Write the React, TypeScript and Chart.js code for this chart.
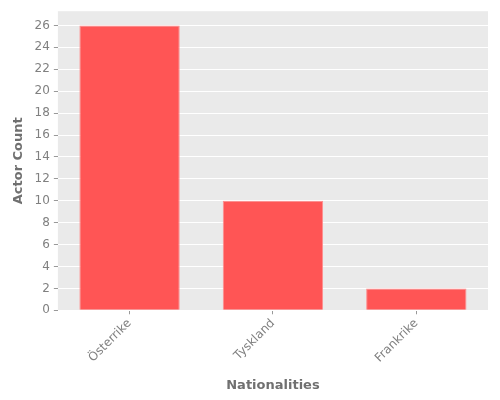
import React, { useEffect, useRef } from 'react';
import { Chart, registerables } from 'chart.js';

Chart.register(...registerables);

const nationalities = ['Österrike', 'Tyskland', 'Frankrike'];
const actorCounts = [26, 10, 2];
const yTicks = [0, 2, 4, 6, 8, 10, 12, 14, 16, 18, 20, 22, 24, 26];

const panelBackground = {
    id: 'panelBackground',
    beforeDraw: (chart: any) => {
        const { ctx, chartArea } = chart;
        ctx.save();
        ctx.fillStyle = '#EAEAEA';
        ctx.fillRect(chartArea.left, chartArea.top, chartArea.right - chartArea.left, chartArea.bottom - chartArea.top);
        ctx.restore();
    }
};

const App: React.FC = () => {
    const chartRef = useRef<HTMLCanvasElement | null>(null);

    useEffect(() => {
        document.body.style.margin = '0';
        if (!chartRef.current) return;
        const ctx = chartRef.current.getContext('2d');
        if (!ctx) return;

        const tickFont = { family: 'DejaVu Sans', size: 12 };
        const titleFont = { family: 'DejaVu Sans', size: 13, weight: 'bold' as const };

        const chart = new Chart(ctx, {
            type: 'bar',
            data: {
                labels: nationalities,
                datasets: [{
                    data: actorCounts,
                    backgroundColor: '#FF5555',
                    borderColor: '#FF8F8F',
                    borderWidth: 1,
                    barPercentage: 0.7,
                    categoryPercentage: 1,
                }]
            },
            options: {
                animation: false,
                responsive: false,
                layout: { padding: { left: 11, right: 12, top: 10, bottom: 7 } },
                plugins: {
                    legend: { display: false },
                    tooltip: { enabled: false },
                },
                scales: {
                    x: {
                        grid: {
                            offset: false,
                            drawOnChartArea: false,
                            drawTicks: true,
                            tickLength: 4,
                            tickColor: '#999999',
                        },
                        border: { display: false },
                        ticks: {
                            font: tickFont,
                            color: '#808080',
                            minRotation: 45,
                            maxRotation: 45,
                            padding: 2,
                        },
                        title: {
                            display: true,
                            text: 'Nationalities',
                            font: titleFont,
                            color: '#707070',
                            padding: { top: 10, bottom: 0 },
                        },
                    },
                    y: {
                        min: 0,
                        max: 27.3,
                        afterBuildTicks: (axis: any) => {
                            axis.ticks = yTicks.map(v => ({ value: v }));
                        },
                        grid: {
                            color: '#FFFFFF',
                            lineWidth: 1,
                            drawTicks: true,
                            tickLength: 4,
                            tickColor: '#999999',
                        },
                        border: { display: false },
                        ticks: {
                            font: tickFont,
                            color: '#808080',
                            padding: 4,
                        },
                        title: {
                            display: true,
                            text: 'Actor Count',
                            font: titleFont,
                            color: '#707070',
                            padding: { top: 0, bottom: 4 },
                        },
                    },
                },
            },
            plugins: [panelBackground],
        });

        return () => {
            chart.destroy();
        };
    }, []);

    return (
        <div style={{ width: 500, height: 400, background: '#FFFFFF' }}>
            <canvas ref={chartRef} width={500} height={400}></canvas>
        </div>
    );
};

export default App;
